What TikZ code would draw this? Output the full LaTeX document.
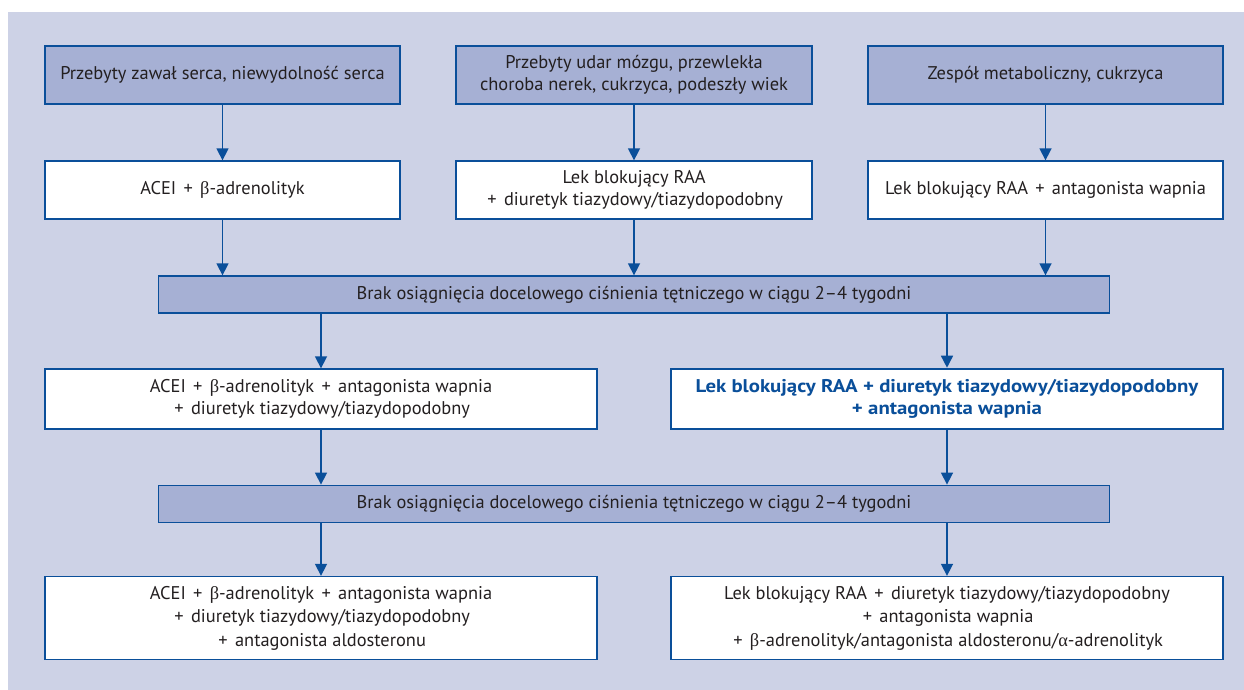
\documentclass[tikz,border=0pt]{standalone}
\usepackage{fontspec}
\setmainfont{PT Sans}
\newfontfamily\boldfam[FakeStretch=1.13]{PT Sans}
\newfontfamily\grk{Liberation Serif}
\usetikzlibrary{arrows.meta}
\definecolor{bgc}{HTML}{CDD2E6}
\definecolor{bandc}{HTML}{A6B0D4}
\definecolor{bluec}{HTML}{0A4F9A}
\definecolor{txtc}{HTML}{231F20}
\newcommand{\gb}{{\grk β}}
\newcommand{\ga}{{\grk α}}
\newcommand{\pl}{\hspace{0.13em}+\hspace{0.13em}\space}
\tikzset{
  box/.style={draw=bluec, line width=1.3pt, fill=white, text=txtc, align=center,
    inner sep=0pt, font=\fontsize{18.4}{22}\selectfont},
  tallbox/.style={box, font=\fontsize{18.4}{23.5}\selectfont},
  darkbox/.style={box, fill=bandc},
  boldbox/.style={box, line width=2.6pt, text=bluec, font=\boldfam\fontsize{18.4}{22.5}\selectfont\bfseries},
  arr/.style={draw=bluec, line width=1.5pt, -{Triangle[length=12pt,width=12pt]}}
}
\begin{document}
\begin{tikzpicture}[x=1pt,y=-1pt]
\useasboundingbox (0,0) rectangle (1244,690);
\fill[bgc] (8,12) rectangle (1244,690);
% row 1
\node[darkbox, minimum width=355pt, minimum height=58pt] (t1) at (222.5,75) {Przebyty zawał serca, niewydolność serca};
\node[darkbox, minimum width=356pt, minimum height=58pt] (t2) at (634,75) {Przebyty udar mózgu, przewlekła\\choroba nerek, cukrzyca, podeszły wiek};
\node[darkbox, minimum width=355pt, minimum height=58pt] (t3) at (1045.5,75) {Zespół metaboliczny, cukrzyca};
% row 2
\node[box, minimum width=355pt, minimum height=58pt] (m1) at (222.5,190) {ACEI \pl \gb-adrenolityk};
\node[box, minimum width=356pt, minimum height=58pt] (m2) at (634,190) {Lek blokujący RAA\\\pl diuretyk tiazydowy/tiazydopodobny};
\node[box, minimum width=355pt, minimum height=58pt] (m3) at (1045.5,190) {Lek blokujący RAA \pl antagonista wapnia};
% band 1
\node[darkbox, minimum width=951pt, minimum height=37pt] (b1) at (634,294.5) {Brak osiągnięcia docelowego ciśnienia tętniczego w ciągu 2–4 tygodni};
% row 4
\node[box, minimum width=552pt, minimum height=60pt] (r4l) at (321,399) {ACEI \pl \gb-adrenolityk \pl antagonista wapnia\\\pl diuretyk tiazydowy/tiazydopodobny};
\node[boldbox, minimum width=552pt, minimum height=60pt] (r4r) at (947,399) {Lek blokujący RAA + diuretyk tiazydowy/tiazydopodobny\\+ antagonista wapnia};
% band 2
\node[darkbox, minimum width=951pt, minimum height=37.5pt] (b2) at (634,504) {Brak osiągnięcia docelowego ciśnienia tętniczego w ciągu 2–4 tygodni};
% row 6
\node[tallbox, minimum width=552pt, minimum height=83pt] (r6l) at (321,618) {ACEI \pl \gb-adrenolityk \pl antagonista wapnia\\\pl diuretyk tiazydowy/tiazydopodobny\\\pl antagonista aldosteronu};
\node[tallbox, minimum width=552pt, minimum height=83pt] (r6r) at (947,618) {Lek blokujący RAA \pl diuretyk tiazydowy/tiazydopodobny\\\pl antagonista wapnia\\\pl \gb-adrenolityk/antagonista aldosteronu/\ga-adrenolityk};
% arrows
\draw[arr] (t1) -- (m1);
\draw[arr] (t2) -- (m2);
\draw[arr] (t3) -- (m3);
\draw[arr] (m1.south) -- (m1.south |- b1.north);
\draw[arr] (m2.south) -- (m2.south |- b1.north);
\draw[arr] (m3.south) -- (m3.south |- b1.north);
\draw[arr] (b1.south -| r4l.north) -- (r4l.north);
\draw[arr] (b1.south -| r4r.north) -- (r4r.north);
\draw[arr] (r4l.south) -- (r4l.south |- b2.north);
\draw[arr] (r4r.south) -- (r4r.south |- b2.north);
\draw[arr] (b2.south -| r6l.north) -- (r6l.north);
\draw[arr] (b2.south -| r6r.north) -- (r6r.north);
\end{tikzpicture}
\end{document}
